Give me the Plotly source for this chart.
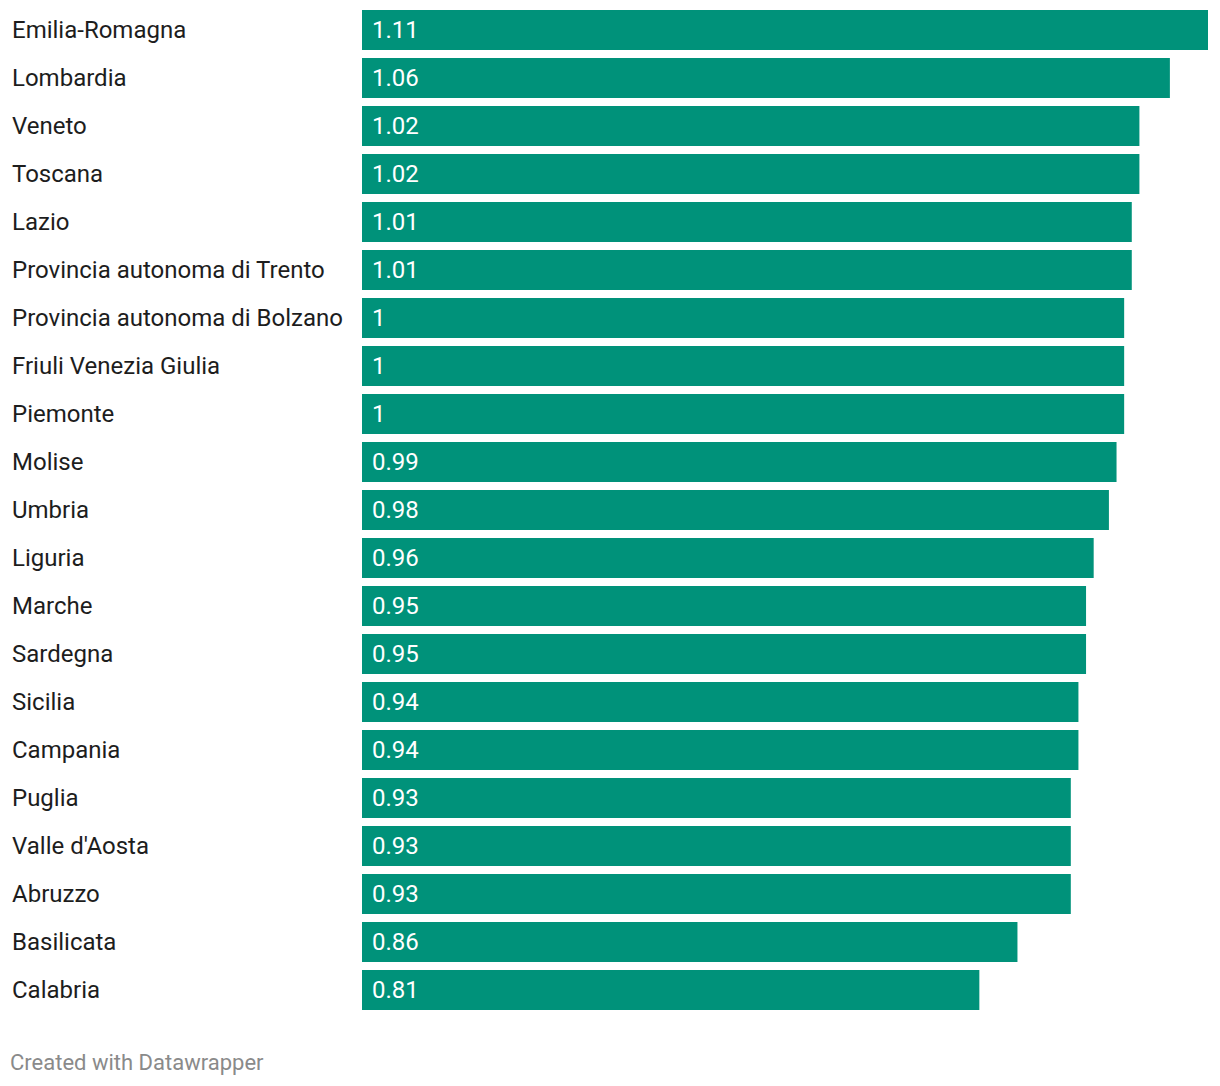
import plotly.graph_objects as go

regions = ["Emilia-Romagna", "Lombardia", "Veneto", "Toscana", "Lazio",
           "Provincia autonoma di Trento", "Provincia autonoma di Bolzano",
           "Friuli Venezia Giulia", "Piemonte", "Molise", "Umbria", "Liguria",
           "Marche", "Sardegna", "Sicilia", "Campania", "Puglia",
           "Valle d'Aosta", "Abruzzo", "Basilicata", "Calabria"]
values = [1.11, 1.06, 1.02, 1.02, 1.01, 1.01, 1.00, 1.00, 1.00, 0.99, 0.98,
          0.96, 0.95, 0.95, 0.94, 0.94, 0.93, 0.93, 0.93, 0.86, 0.81]
value_labels = ["1.11", "1.06", "1.02", "1.02", "1.01", "1.01", "1", "1", "1",
                "0.99", "0.98", "0.96", "0.95", "0.95", "0.94", "0.94", "0.93",
                "0.93", "0.93", "0.86", "0.81"]

W, H = 1220, 1086
ML, MR, MT, MB = 362, 12, 6, 72
FONT = "Roboto, sans-serif"
BAR = "#00927A"

fig = go.Figure(go.Bar(
    x=values, y=regions, orientation="h",
    marker=dict(color=BAR, line=dict(width=0)),
    hoverinfo="skip",
))

plot_w = W - ML - MR
plot_h = H - MT - MB
annotations = []
for r, lab in zip(regions, value_labels):
    annotations.append(dict(x=0, y=r, xref="x", yref="y", text=lab,
                            showarrow=False, xanchor="left", xshift=10,
                            borderpad=0, borderwidth=0,
                            font=dict(family=FONT, size=24, color="white")))
    annotations.append(dict(x=-(ML - 12) / plot_w, y=r, xref="paper", yref="y",
                            text=r, showarrow=False, xanchor="left",
                            borderpad=0, borderwidth=0,
                            font=dict(family=FONT, size=24, color="#1d1d1d")))
annotations.append(dict(x=-(ML - 10) / plot_w, y=-(1062 - (H - MB)) / plot_h,
                        xref="paper", yref="paper", text="Created with Datawrapper",
                        showarrow=False, xanchor="left", yanchor="middle",
                        borderpad=0, borderwidth=0,
                        font=dict(family=FONT, size=22, color="#8a8a8a")))

fig.update_layout(
    width=W, height=H,
    margin=dict(l=ML, r=MR, t=MT, b=MB),
    paper_bgcolor="white", plot_bgcolor="white",
    bargap=8 / 48,
    showlegend=False,
    xaxis=dict(range=[0, 1.11], visible=False, fixedrange=True),
    yaxis=dict(autorange=False, range=[len(regions) - 0.5, -0.5], visible=False,
               type="category", fixedrange=True),
    annotations=annotations,
)

fig.write_html("out.html", config={"displayModeBar": False},
               post_script="document.body.style.margin='0';")
